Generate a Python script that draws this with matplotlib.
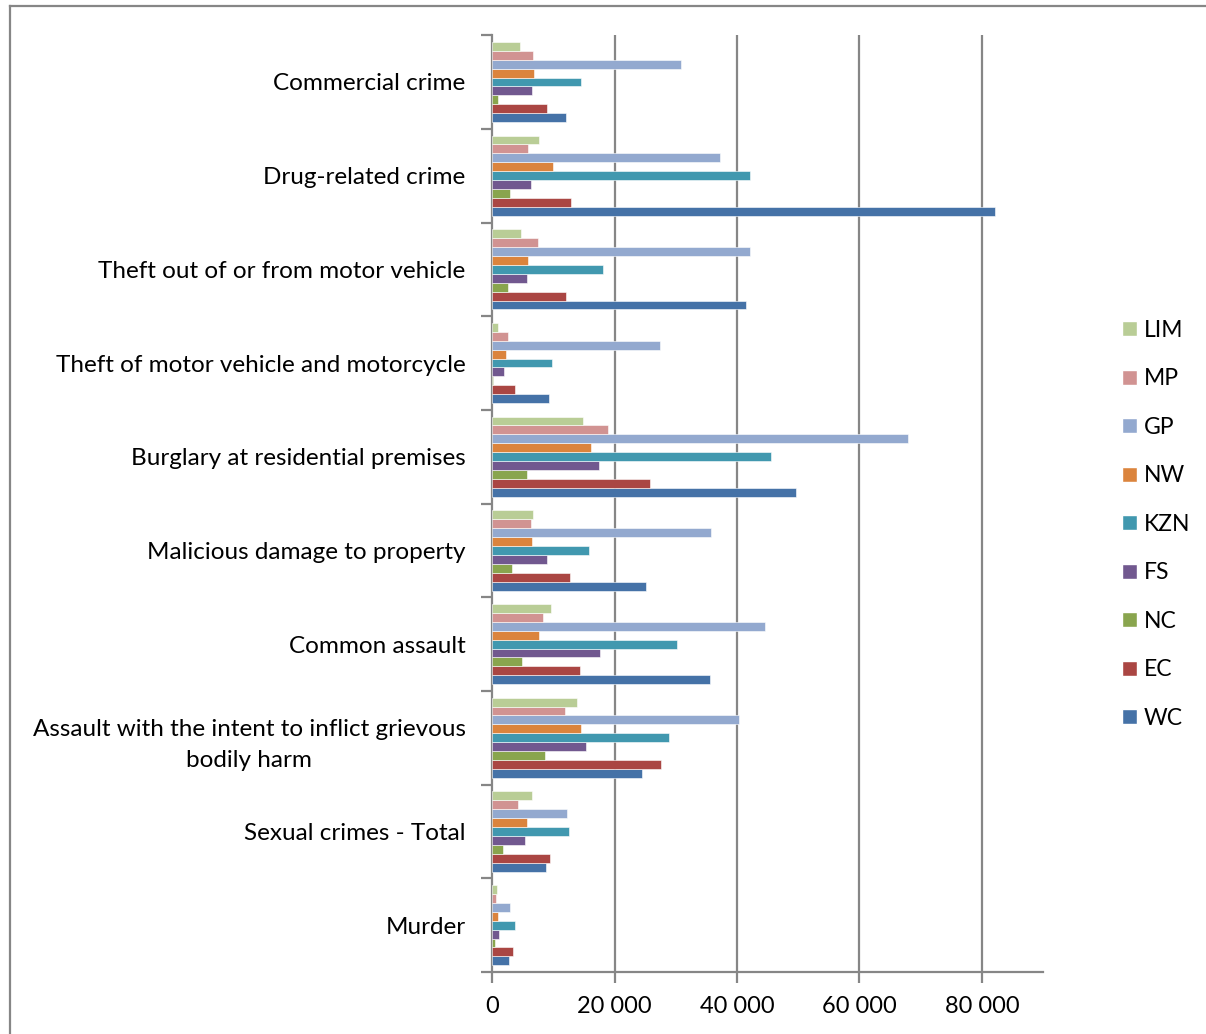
import matplotlib.pyplot as plt
from matplotlib.patches import Patch
from matplotlib.lines import Line2D
import numpy as np

plt.rcParams['font.family'] = ['Lato', 'DejaVu Sans']

# categories bottom -> top
categories = ['Murder', 'Sexual crimes - Total',
              'Assault with the intent to inflict grievous\nbodily harm',
              'Common assault', 'Malicious damage to property',
              'Burglary at residential premises',
              'Theft of motor vehicle and motorcycle',
              'Theft out of or from motor vehicle',
              'Drug-related crime', 'Commercial crime']

WC = [2700, 8800, 24500, 35600, 25200, 49600, 9300, 41500, 82100, 12100]
EC = [3400, 9500, 27600, 14300, 12700, 25800, 3800, 12100, 12900, 8900]
NC = [500, 1800, 8700, 4900, 3200, 5700, 200, 2600, 2900, 900]
FS = [1100, 5300, 15400, 17700, 8900, 17400, 2000, 5700, 6300, 6600]
KZN = [3700, 12500, 28900, 30200, 15800, 45500, 9800, 18100, 42200, 14500]
NW = [900, 5700, 14600, 7600, 6600, 16100, 2300, 5900, 9900, 6900]
GP = [3000, 12200, 40300, 44500, 35800, 67900, 27400, 42100, 37300, 30800]
MP = [700, 4300, 11900, 8400, 6300, 19000, 2600, 7500, 5900, 6700]
LIM = [800, 6500, 13800, 9600, 6700, 14900, 1000, 4700, 7600, 4500]

series_names = ['WC', 'EC', 'NC', 'FS', 'KZN', 'NW', 'GP', 'MP', 'LIM']
series_vals = [WC, EC, NC, FS, KZN, NW, GP, MP, LIM]
colors = ['#4572A7', '#AA4643', '#89A54E', '#71588F', '#4198AF',
          '#DB843D', '#93A9CF', '#D19392', '#B9CD96']

xticks = [0, 20000, 40000, 60000, 80000]
xticklabels = ['0', '20 000', '40 000', '60 000', '80 000']

fig = plt.figure(figsize=(12.06, 10.34), dpi=100)
ax = fig.add_axes([0.408, 0.060, 0.457, 0.906])

n = len(series_names)
h = 0.857 / n
y = np.arange(len(categories))
for j, (name, vals, c) in enumerate(zip(series_names, series_vals, colors)):
    ax.barh(y + (j - (n - 1) / 2) * h, vals, height=h, color=c,
            edgecolor='white', linewidth=0.4, label=name, zorder=3)

ax.set_xlim(0, 90000)
ax.set_ylim(-0.5, len(categories) - 0.5)

grey = '#868686'
for xv in xticks[1:]:
    ax.axvline(xv, color=grey, lw=1.6, zorder=1)

ax.set_xticks(xticks)
ax.set_xticklabels(xticklabels, fontsize=17)
ax.tick_params(axis='x', length=8, width=1.6, color=grey, pad=9)

ax.set_yticks(y)
ax.set_yticklabels(categories, fontsize=17.5, linespacing=1.6,
                   multialignment='center')
ax.tick_params(axis='y', which='major', length=0, pad=19)
ax.set_yticks(np.arange(len(categories) + 1) - 0.5, minor=True)
ax.tick_params(axis='y', which='minor', length=8, width=1.6, color=grey)

for s in ['top', 'right']:
    ax.spines[s].set_visible(False)
for s in ['left', 'bottom']:
    ax.spines[s].set_color(grey)
    ax.spines[s].set_linewidth(1.6)

handles = [Patch(facecolor=c, edgecolor='white', label=nm)
           for nm, c in zip(series_names[::-1], colors[::-1])]
fig.legend(handles=handles, loc='center left', bbox_to_anchor=(0.921, 0.493),
           frameon=False, fontsize=16.5, handlelength=0.65, handleheight=0.65,
           handletextpad=0.3, labelspacing=1.2, borderpad=0)

# outer frame (left and top edges)
fig.add_artist(Line2D([0.008, 0.008], [0.0, 0.9945], color=grey, lw=1.6,
                      transform=fig.transFigure))
fig.add_artist(Line2D([0.008, 1.0], [0.9945, 0.9945], color=grey, lw=1.6,
                      transform=fig.transFigure))

fig.savefig('out.png', dpi=100)
